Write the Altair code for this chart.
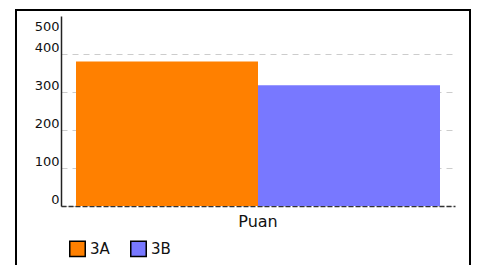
import altair as alt
import pandas as pd

categories = ["Puan", "Puan"]
classes = ["3A", "3B"]
values = [380, 318]
colors = ["#FF8000", "#7878FF"]
y_ticks = [0, 100, 200, 300, 400, 500]

df = pd.DataFrame({"cat": categories, "cls": classes, "val": values})

FONT = "DejaVu Sans"

bars = alt.Chart(df).mark_bar().encode(
    x=alt.X("cat:N", title=None,
            scale=alt.Scale(paddingInner=0, paddingOuter=0.0412, align=0.5),
            axis=alt.Axis(labelAngle=0, ticks=False, grid=False, domainColor="#333",
                          domainDash=[5, 2], domainWidth=1.5, labelFontSize=16,
                          labelColor="#111", labelPadding=7, labelFont=FONT)),
    xOffset=alt.XOffset("cls:N", scale=alt.Scale(paddingInner=0, paddingOuter=0)),
    y=alt.Y("val:Q", title=None,
            scale=alt.Scale(domain=[0, 500], nice=False),
            axis=alt.Axis(values=y_ticks, ticks=False, domainColor="#222",
                          domainWidth=1.5, gridDash=[6, 5],
                          gridColor={"condition": {"test": "datum.value >= 500", "value": "transparent"}, "value": "#cccccc"},
                          labelBaseline={"condition": {"test": "datum.value >= 500", "value": "top"}, "value": "bottom"},
                          labelOffset={"condition": {"test": "datum.value >= 500", "value": 4}, "value": 0},
                          labelFontSize=13, labelColor="#111", labelPadding=2,
                          labelFont=FONT, labelFlush=False)),
    color=alt.Color("cls:N", title=None,
                    scale=alt.Scale(domain=classes, range=colors),
                    legend=alt.Legend(orient="none", legendX=8, legendY=224,
                                      direction="horizontal", symbolType="square",
                                      symbolSize=240, symbolStrokeColor="black",
                                      symbolStrokeWidth=1.5, labelFontSize=15,
                                      labelFont=FONT, labelColor="#111",
                                      columnPadding=17, labelOffset=4, padding=0)),
)

frame = alt.Chart(df).mark_rect(fill=None, stroke="black", strokeWidth=2, clip=False).encode(
    x=alt.value(-45), x2=alt.value(409), y=alt.value(-6), y2=alt.value(300)
)

chart = alt.layer(frame, bars).properties(
    width=394, height=190,
    autosize=alt.AutoSizeParams(type="none"),
    padding={"left": 53, "top": 8, "right": 20, "bottom": 60},
    view=alt.ViewBackground(stroke="transparent", strokeWidth=0),
).configure_view(stroke="transparent", strokeWidth=0).configure(font=FONT)

chart.save("out.html", embed_options={"renderer": "svg", "actions": False})
